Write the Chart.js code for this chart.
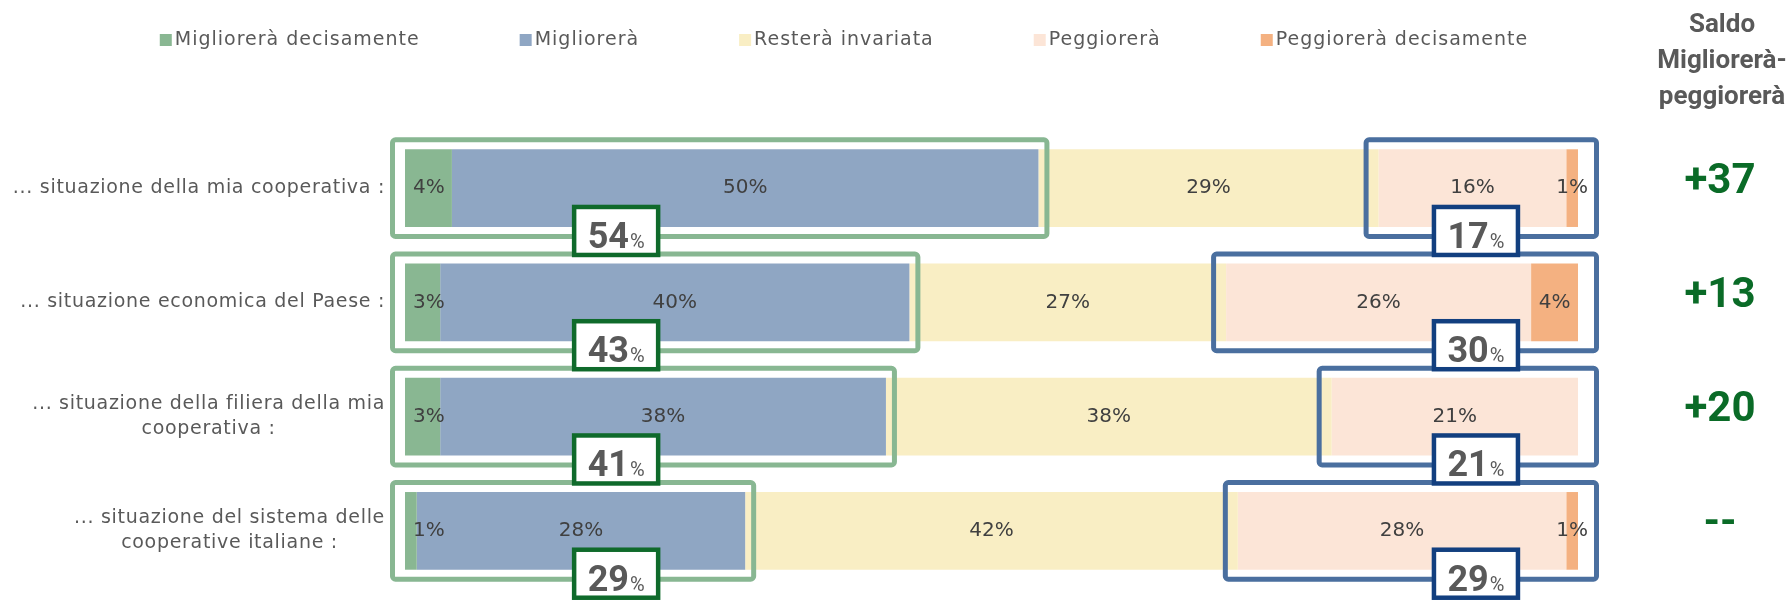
<!DOCTYPE html>
<html>
<head>
<meta charset="utf-8">
<script src="https://cdn.jsdelivr.net/npm/chart.js@4.4.1/dist/chart.umd.min.js"></script>
<style>
  html, body { margin: 0; padding: 0; background: #fff; }
  #wrap { width: 1787px; height: 603px; position: relative; }
</style>
</head>
<body>
<div id="wrap"><canvas id="chart" width="1787" height="603"></canvas></div>
<script>
// ── Data ─────────────────────────────────────────────────────────
const categories = [
  '... situazione della mia cooperativa :',
  '... situazione economica del Paese :',
  ['... situazione della filiera della mia', 'cooperativa :'],
  ['... situazione del sistema delle', 'cooperative italiane :']
];
const seriesNames = ['Migliorerà decisamente', 'Migliorerà', 'Resterà invariata', 'Peggiorerà', 'Peggiorerà decisamente'];
const miglioreraDecisamente = [4, 3, 3, 1];
const migliorera = [50, 40, 38, 28];
const resteraInvariata = [29, 27, 38, 42];
const peggiorera = [16, 26, 21, 28];
const peggioreraDecisamente = [1, 4, 0, 1];
const saldoTitle = ['Saldo', 'Migliorerà-', 'peggiorerà'];

const colors = ['#89b792', '#8fa6c3', '#f9eec4', '#fce5d7', '#f4b181'];
const series = [miglioreraDecisamente, migliorera, resteraInvariata, peggiorera, peggioreraDecisamente];

const improveTot = categories.map((c, i) => miglioreraDecisamente[i] + migliorera[i]);
const worseTot = categories.map((c, i) => peggiorera[i] + peggioreraDecisamente[i]);
const saldo = categories.map((c, i) => {
  const s = improveTot[i] - worseTot[i];
  return s === 0 ? '--' : (s > 0 ? '+' : '') + s;
});

const TEXT = '#595959';
const LABEL_FONT = '"DejaVu Sans", sans-serif';
const BOLD_FONT = 'Roboto, "Liberation Sans", sans-serif';

// ── Drawing helpers ──────────────────────────────────────────────
const frame = (ctx, x1, y1, x2, y2, color) => {
  ctx.save();
  ctx.lineWidth = 5;
  ctx.strokeStyle = color;
  ctx.beginPath();
  ctx.roundRect(x1, y1, x2 - x1, y2 - y1, 3);
  ctx.stroke();
  ctx.restore();
};

const totalBox = (ctx, cx, top, value, color) => {
  const w = 84, h = 48;
  ctx.save();
  ctx.fillStyle = '#fff';
  ctx.fillRect(cx - w / 2, top, w, h);
  ctx.lineWidth = 4.5;
  ctx.strokeStyle = color;
  ctx.strokeRect(cx - w / 2, top, w, h);
  ctx.fillStyle = TEXT;
  ctx.textBaseline = 'alphabetic';
  ctx.textAlign = 'left';
  ctx.font = 'bold 36px ' + BOLD_FONT;
  const nw = ctx.measureText(String(value)).width;
  ctx.font = '20px ' + BOLD_FONT;
  const pw = ctx.measureText('%').width;
  const sx = cx - (nw + pw + 1) / 2;
  ctx.font = 'bold 36px ' + BOLD_FONT;
  ctx.fillText(String(value), sx, top + 41);
  ctx.font = '20px ' + BOLD_FONT;
  ctx.fillText('%', sx + nw + 1, top + 41);
  ctx.restore();
};

// ── Plugin: frames, value labels, totals, side texts ─────────────
const decor = {
  id: 'decor',
  afterDatasetsDraw(chart) {
    const ctx = chart.ctx;
    const xs = chart.scales.x;
    const metas = series.map((s, i) => chart.getDatasetMeta(i));

    categories.forEach((c, j) => {
      const first = metas[0].data[j].getProps(['x', 'y', 'base', 'height'], true);
      const top = first.y - first.height / 2;
      const bottom = first.y + first.height / 2;
      const barLeft = first.base;
      const impEnd = metas[1].data[j].getProps(['x'], true).x;
      const worseStart = metas[3].data[j].getProps(['base'], true).base;
      const barRight = metas[4].data[j].getProps(['x'], true).x;

      frame(ctx, barLeft - 12.5, top - 9.5, impEnd + 8.5, bottom + 9.5, '#88b792');
      frame(ctx, worseStart - 12.5, top - 9.5, barRight + 18.5, bottom + 9.5, '#4a6f9f');
    });

    // value labels
    ctx.save();
    ctx.font = '20px ' + LABEL_FONT;
    ctx.fillStyle = '#404040';
    ctx.textAlign = 'center';
    ctx.textBaseline = 'middle';
    series.forEach((s, i) => {
      metas[i].data.forEach((el, j) => {
        if (!s[j]) return;
        const p = el.getProps(['x', 'y', 'base'], true);
        const txt = s[j] + '%';
        const w = ctx.measureText(txt).width;
        let cx = (p.x + p.base) / 2;
        if (cx - w / 2 < chart.chartArea.left + 8) cx = chart.chartArea.left + 8 + w / 2;
        ctx.fillText(txt, cx, p.y);
      });
    });
    ctx.restore();

    // total boxes
    categories.forEach((c, j) => {
      const el = metas[0].data[j].getProps(['y', 'height'], true);
      const bottom = el.y + el.height / 2;
      totalBox(ctx, xs.getPixelForValue(18), bottom - 20, improveTot[j], '#0f6a2b');
      totalBox(ctx, xs.getPixelForValue(91.3), bottom - 20, worseTot[j], '#123f7f');
    });
  },
  afterDraw(chart) {
    const ctx = chart.ctx;
    const area = chart.chartArea;
    const ys = chart.scales.y;

    // category labels: block right aligned, lines centred
    ctx.save();
    ctx.font = '19px ' + LABEL_FONT;
    ctx.letterSpacing = '0.7px';
    ctx.fillStyle = TEXT;
    ctx.textAlign = 'center';
    ctx.textBaseline = 'middle';
    categories.forEach((c, j) => {
      const lines = Array.isArray(c) ? c : [c];
      const widest = Math.max(...lines.map(l => ctx.measureText(l).width));
      const cx = area.left - 20 - widest / 2;
      const y0 = ys.getPixelForTick(j) - (lines.length - 1) * 25 / 2;
      lines.forEach((l, k) => ctx.fillText(l, cx, y0 + k * 25));
    });
    ctx.restore();

    // legend
    ctx.save();
    ctx.font = '19px ' + LABEL_FONT;
    ctx.letterSpacing = '1px';
    ctx.textBaseline = 'middle';
    ctx.textAlign = 'left';
    const gap = 100, box = 12;
    const widths = seriesNames.map(n => box + 3 + ctx.measureText(n).width);
    const total = widths.reduce((a, b) => a + b, 0) + gap * (seriesNames.length - 1);
    let lx = 844 - total / 2;
    seriesNames.forEach((n, i) => {
      ctx.fillStyle = colors[i];
      ctx.fillRect(lx, 34, box, box);
      ctx.fillStyle = TEXT;
      ctx.fillText(n, lx + box + 3, 40);
      lx += widths[i] + gap;
    });
    ctx.restore();

    // saldo column
    ctx.save();
    ctx.textAlign = 'center';
    ctx.textBaseline = 'middle';
    ctx.fillStyle = TEXT;
    ctx.font = 'bold 26px ' + BOLD_FONT;
    saldoTitle.forEach((t, k) => ctx.fillText(t, 1722, 25 + k * 36));
    ctx.fillStyle = '#0a6b27';
    ctx.font = 'bold 42px ' + BOLD_FONT;
    saldo.forEach((s, j) => ctx.fillText(s, 1720, ys.getPixelForTick(j) - 6));
    ctx.restore();
  }
};

// ── Chart ────────────────────────────────────────────────────────
new Chart(document.getElementById('chart'), {
  type: 'bar',
  data: {
    labels: categories,
    datasets: seriesNames.map((name, i) => ({
      label: name,
      data: series[i],
      backgroundColor: colors[i],
      borderWidth: 0,
      barPercentage: 0.68,
      categoryPercentage: 1
    }))
  },
  options: {
    indexAxis: 'y',
    responsive: false,
    animation: false,
    layout: { padding: { left: 405, right: 209, top: 131, bottom: 15 } },
    plugins: { legend: { display: false }, tooltip: { enabled: false } },
    scales: {
      x: { stacked: true, min: 0, max: 100, display: false },
      y: { stacked: true, display: false }
    }
  },
  plugins: [decor]
});
</script>
</body>
</html>
